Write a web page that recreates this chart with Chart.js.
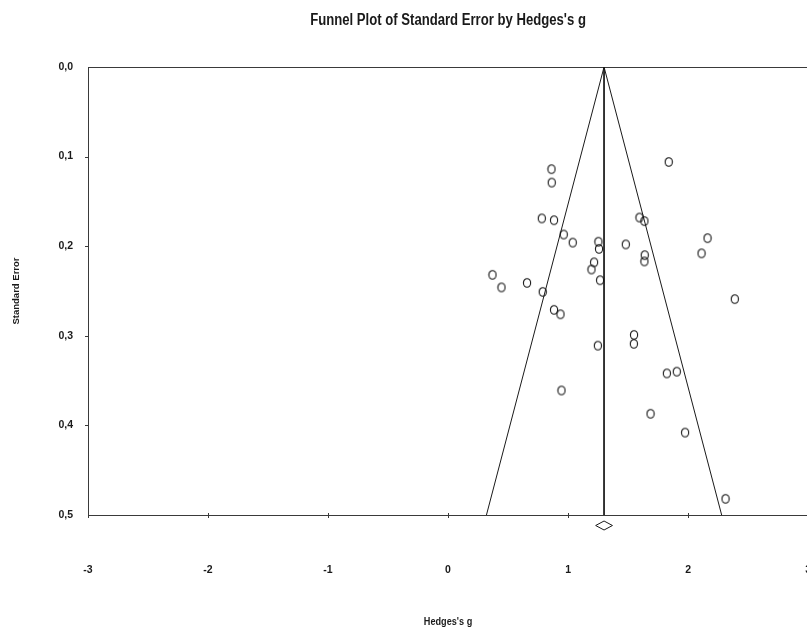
<!DOCTYPE html>
<html>
<head>
<meta charset="utf-8">
<script src="https://cdn.jsdelivr.net/npm/chart.js@4.4.0/dist/chart.umd.min.js"></script>
<style>
  html, body { margin: 0; padding: 0; background: #fff; overflow: hidden; }
  #wrap { width: 852px; height: 631px; }
  #funnel { width: 852px; height: 631px; display: block; }
</style>
</head>
<body>
<div id="wrap"><canvas id="funnel" width="852" height="631"></canvas></div>
<script>
// study effects (Hedges's g) and their standard errors
const hedgesG = [
  0.862, 0.864, 0.781, 0.883, 0.964, 1.039, 1.253, 1.258, 1.481, 1.217,
  1.195, 0.370, 0.445, 0.658, 0.789, 1.267,
  1.839, 1.595, 1.636, 2.162, 2.112, 1.639, 1.636, 2.389,
  0.883, 0.937, 1.248, 1.550, 1.548, 0.945,
  1.823, 1.906, 1.687, 1.975, 2.312
];
const stdError = [
  0.114, 0.129, 0.169, 0.171, 0.187, 0.196, 0.195, 0.203, 0.198, 0.218,
  0.226, 0.232, 0.246, 0.241, 0.251, 0.238,
  0.106, 0.168, 0.172, 0.191, 0.208, 0.210, 0.217, 0.259,
  0.271, 0.276, 0.311, 0.299, 0.309, 0.361,
  0.342, 0.340, 0.387, 0.408, 0.482
];

// pooled estimate, its confidence interval and the funnel's 95% limits
const summaryEffect = 1.30;
const summaryCI = [1.23, 1.37];
const funnelX = [0.32, 1.30, 2.28];
const funnelY = [0.5, 0.0, 0.5];

const xTicks = [-3, -2, -1, 0, 1, 2, 3];
const yTickLabels = ['0,0', '0,1', '0,2', '0,3', '0,4', '0,5'];

const titleText = "Funnel Plot of Standard Error by Hedges's g";
const xTitle = "Hedges's g";
const yTitle = 'Standard Error';

const SANS = "'Liberation Sans', Arial, sans-serif";

// open ellipse used as the study marker
function makeMarker() {
  const c = document.createElement('canvas');
  c.width = 10; c.height = 12;
  const g = c.getContext('2d');
  g.strokeStyle = '#111';
  g.lineWidth = 1.1;
  g.beginPath();
  g.ellipse(5, 6, 3.6, 4.3, 0, 0, Math.PI * 2);
  g.stroke();
  return c;
}

// bold text squeezed horizontally, like a narrow face
function narrowText(ctx, text, x, y, size, squeeze) {
  ctx.save();
  ctx.font = 'bold ' + size + 'px ' + SANS;
  ctx.translate(x, y);
  ctx.scale(squeeze, 1);
  ctx.textAlign = 'center';
  ctx.fillText(text, 0, 0);
  ctx.restore();
}

const points = hedgesG.map((g, i) => ({ x: g, y: stdError[i] }));
const funnel = funnelX.map((x, i) => ({ x: x, y: funnelY[i] }));
const meanLine = [{ x: summaryEffect, y: 0 }, { x: summaryEffect, y: 0.5 }];

const framePlugin = {
  id: 'frame',
  beforeDatasetsDraw(chart) {
    const { ctx, chartArea: a, scales } = chart;
    ctx.save();
    ctx.strokeStyle = '#3a3a3a';
    ctx.lineWidth = 1;
    ctx.strokeRect(a.left + 0.5, a.top + 0.5, a.right - a.left, a.bottom - a.top);
    ctx.beginPath();
    xTicks.forEach(t => {
      const px = Math.round(scales.x.getPixelForValue(t)) + 0.5;
      ctx.moveTo(px, a.bottom - 2);
      ctx.lineTo(px, a.bottom + 3);
    });
    for (let i = 1; i < yTickLabels.length - 1; i++) {
      const py = Math.round(scales.y.getPixelForValue(i / 10)) + 0.5;
      ctx.moveTo(a.left - 3, py);
      ctx.lineTo(a.left, py);
    }
    ctx.stroke();
    ctx.restore();
  },
  afterDraw(chart) {
    const { ctx, chartArea: a, scales } = chart;
    ctx.save();
    // summary diamond under the axis
    const cx = scales.x.getPixelForValue(summaryEffect);
    const lx = scales.x.getPixelForValue(summaryCI[0]);
    const rx = scales.x.getPixelForValue(summaryCI[1]);
    const cy = a.bottom + 10.5;
    ctx.strokeStyle = '#1a1a1a';
    ctx.lineWidth = 1;
    ctx.beginPath();
    ctx.moveTo(lx, cy);
    ctx.lineTo(cx, cy - 4.5);
    ctx.lineTo(rx, cy);
    ctx.lineTo(cx, cy + 4.5);
    ctx.closePath();
    ctx.stroke();

    const mid = (a.left + a.right) / 2;
    ctx.fillStyle = '#1a1a1a';
    ctx.textBaseline = 'alphabetic';
    narrowText(ctx, titleText, mid, 24.5, 16, 0.82);
    narrowText(ctx, xTitle, mid, 624.5, 11, 0.83);
    ctx.translate(19, (a.top + a.bottom) / 2);
    ctx.rotate(-Math.PI / 2);
    ctx.textAlign = 'center';
    ctx.font = 'bold 9.5px ' + SANS;
    ctx.fillText(yTitle, 0, 0);
    ctx.restore();
  }
};

new Chart(document.getElementById('funnel'), {
  type: 'scatter',
  data: {
    datasets: [
      {
        data: points,
        pointStyle: makeMarker(),
        pointRadius: 5,
        pointHoverRadius: 5,
        showLine: false
      },
      {
        type: 'line',
        data: funnel,
        borderColor: '#1a1a1a',
        borderWidth: 1,
        pointRadius: 0,
        fill: false,
        tension: 0
      },
      {
        type: 'line',
        data: meanLine,
        borderColor: '#1a1a1a',
        borderWidth: 1,
        pointRadius: 0,
        fill: false
      }
    ]
  },
  options: {
    responsive: false,
    maintainAspectRatio: false,
    animation: false,
    events: [],
    layout: { padding: { top: 67, right: 0, bottom: 0, left: 0 } },
    plugins: { legend: { display: false }, tooltip: { enabled: false }, title: { display: false } },
    scales: {
      x: {
        type: 'linear',
        min: -3,
        max: 3,
        afterFit(scale) { scale.height = 116; },
        afterBuildTicks(scale) { scale.ticks = xTicks.map(v => ({ value: v })); },
        grid: { display: false },
        border: { display: false },
        ticks: {
          padding: 41,
          color: '#1a1a1a',
          font: { family: SANS, size: 10.5, weight: 'bold' },
          callback: v => String(v)
        }
      },
      y: {
        type: 'linear',
        min: 0,
        max: 0.5,
        reverse: true,
        afterFit(scale) { scale.width = 88; },
        grid: { display: false },
        border: { display: false },
        ticks: {
          stepSize: 0.1,
          padding: 7,
          color: '#1a1a1a',
          font: { family: SANS, size: 10.5, weight: 'bold' },
          callback: v => yTickLabels[Math.round(v * 10)]
        }
      }
    }
  },
  plugins: [framePlugin]
});
</script>
</body>
</html>
